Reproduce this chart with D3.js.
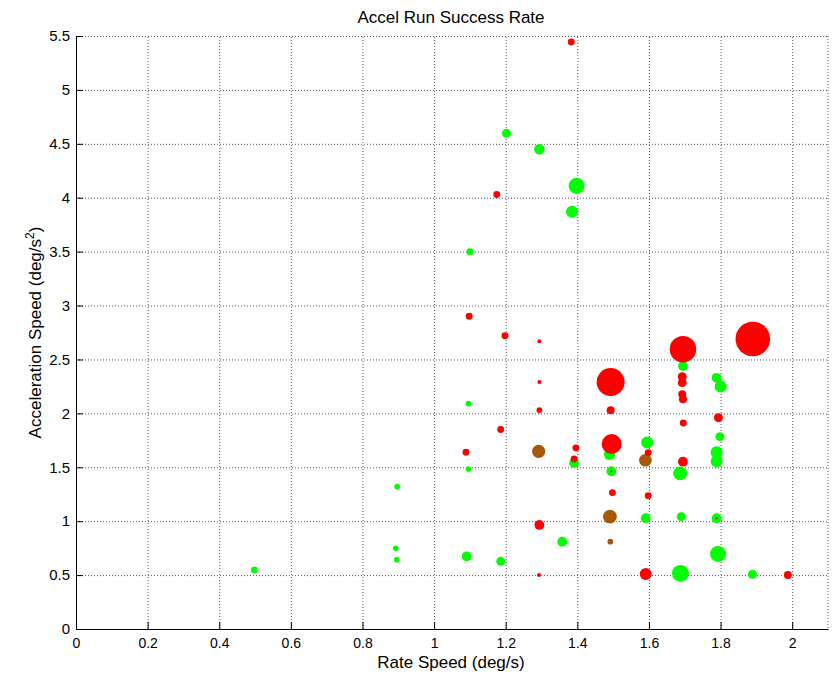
<!DOCTYPE html>
<html>
<head>
<meta charset="utf-8">
<script src="https://cdn.jsdelivr.net/npm/d3@7"></script>
<style>
  body { margin: 0; background: #fff; }
  text { font-family: "Liberation Sans", Arial, sans-serif; }
</style>
</head>
<body>
<div class="svg"></div>
<script>
// success runs (green)
const greenX = [1.202, 1.294, 1.398, 1.385, 1.10, 1.695, 1.789, 1.80, 1.096, 1.798, 1.595, 1.49, 1.789, 1.391, 1.789, 1.096, 1.495, 1.687, 1.591, 1.69, 1.789, 1.358, 1.793, 1.091, 1.186, 1.688, 1.889, 0.498, 0.897, 0.893, 0.896];
const greenY = [4.598, 4.45, 4.11, 3.87, 3.50, 2.44, 2.33, 2.25, 2.09, 1.784, 1.73, 1.62, 1.64, 1.54, 1.556, 1.484, 1.463, 1.444, 1.027, 1.042, 1.027, 0.81, 0.696, 0.674, 0.628, 0.516, 0.507, 0.547, 1.32, 0.749, 0.643];
const greenN = [5, 7, 16, 9, 3, 6, 6, 9, 2, 5, 9, 8, 9, 6, 9, 2, 6, 12, 6, 5, 6, 6, 16, 6, 5, 18, 5, 3, 2, 2, 2];

// partial runs (brown)
const brownX = [1.292, 1.59, 1.491, 1.492, 1.789];
const brownY = [1.648, 1.565, 1.042, 0.81, 1.027];
const brownN = [11, 10, 12, 2, 0.4];

// failed runs (red)
const redX = [1.383, 1.175, 1.098, 1.198, 1.294, 1.695, 1.89, 1.693, 1.693, 1.493, 1.294, 1.693, 1.695, 1.294, 1.493, 1.794, 1.696, 1.186, 1.496, 1.396, 1.089, 1.598, 1.391, 1.695, 1.498, 1.598, 1.294, 1.591, 1.293, 1.988, 1.495];
const redY = [5.445, 4.03, 2.90, 2.72, 2.67, 2.595, 2.69, 2.34, 2.285, 2.29, 2.29, 2.177, 2.13, 2.03, 2.03, 1.96, 1.91, 1.85, 1.716, 1.68, 1.64, 1.636, 1.577, 1.552, 1.265, 1.237, 0.965, 0.51, 0.50, 0.50, 1.463];
const redN = [3, 3, 3, 3, 1, 44, 75, 5, 5, 49, 1, 4, 4, 2, 4, 5, 3, 3, 25, 3, 3, 3, 3, 6, 3, 3, 6, 9, 1, 4, 0.3];

const xTicks = [0, 0.2, 0.4, 0.6, 0.8, 1, 1.2, 1.4, 1.6, 1.8, 2];
const yTicks = [0, 0.5, 1, 1.5, 2, 2.5, 3, 3.5, 4, 4.5, 5, 5.5];

const w = 837;
const h = 675;
const pLeft = 76, pRight = 828, pTop = 36, pBottom = 629;

const svg = d3.select('.svg')
    .append('svg')
    .attr('width', w)
    .attr('height', h);

const xScale = d3.scaleLinear().domain([0, 2.1]).range([pLeft, pRight]);
const yScale = d3.scaleLinear().domain([0, 5.5]).range([pBottom, pTop]);
const rScale = d3.scaleSqrt().domain([0, 1]).range([0, 2]);
const fmt = d3.format('~g');

// grid
svg.append('g')
    .attr('transform', 'translate(0,' + pBottom + ')')
    .call(d3.axisBottom(xScale).tickValues(xTicks.slice(1)).tickSize(-(pBottom - pTop)).tickFormat(''))
    .call(g => g.select('.domain').remove())
    .selectAll('line')
    .attr('stroke', '#555')
    .attr('stroke-dasharray', '1,2');

svg.append('g')
    .attr('transform', 'translate(' + pLeft + ',0)')
    .call(d3.axisLeft(yScale).tickValues(yTicks.slice(1)).tickSize(-(pRight - pLeft)).tickFormat(''))
    .call(g => g.select('.domain').remove())
    .selectAll('line')
    .attr('stroke', '#555')
    .attr('stroke-dasharray', '1,2');

// right edge
svg.append('line')
    .attr('x1', pRight).attr('x2', pRight)
    .attr('y1', pTop).attr('y2', pBottom)
    .attr('stroke', '#555')
    .attr('stroke-dasharray', '1,2');

// points
const drawSet = (xs, ys, ns, color) => {
    const pts = xs.map((x, i) => ({ x: x, y: ys[i], n: ns[i] }));
    svg.append('g')
        .selectAll('circle')
        .data(pts)
        .enter()
        .append('circle')
        .attr('cx', d => xScale(d.x))
        .attr('cy', d => yScale(d.y))
        .attr('r', d => rScale(d.n))
        .attr('fill', color);
};
drawSet(greenX, greenY, greenN, '#00ff00');
drawSet(brownX, brownY, brownN, '#a85808');
drawSet(redX, redY, redN, '#ff0000');

// axes
const xAxis = svg.append('g')
    .attr('transform', 'translate(0,' + pBottom + ')')
    .call(d3.axisBottom(xScale).tickValues(xTicks).tickFormat(fmt).tickSizeInner(-7).tickSizeOuter(0).tickPadding(9));
xAxis.selectAll('text').attr('font-size', 14).attr('fill', '#000');
xAxis.selectAll('line, path').attr('stroke', '#000');

const yAxis = svg.append('g')
    .attr('transform', 'translate(' + pLeft + ',0)')
    .call(d3.axisLeft(yScale).tickValues(yTicks).tickFormat(fmt).tickSizeInner(-7).tickSizeOuter(0).tickPadding(6));
yAxis.selectAll('text').attr('font-size', 15).attr('fill', '#000');
yAxis.selectAll('line, path').attr('stroke', '#000');

// labels
svg.append('text')
    .attr('x', 451)
    .attr('y', 23)
    .attr('text-anchor', 'middle')
    .attr('font-size', 17)
    .text('Accel Run Success Rate');

svg.append('text')
    .attr('x', 451)
    .attr('y', 668)
    .attr('text-anchor', 'middle')
    .attr('font-size', 17)
    .text('Rate Speed (deg/s)');

const yl = svg.append('text')
    .attr('transform', 'translate(41,' + ((pTop + pBottom) / 2) + ') rotate(-90)')
    .attr('text-anchor', 'middle')
    .attr('font-size', 17);
yl.append('tspan').text('Acceleration Speed (deg/s');
yl.append('tspan').attr('font-size', 12).attr('dy', -7).text('2');
yl.append('tspan').attr('dy', 7).text(')');
</script>
</body>
</html>
